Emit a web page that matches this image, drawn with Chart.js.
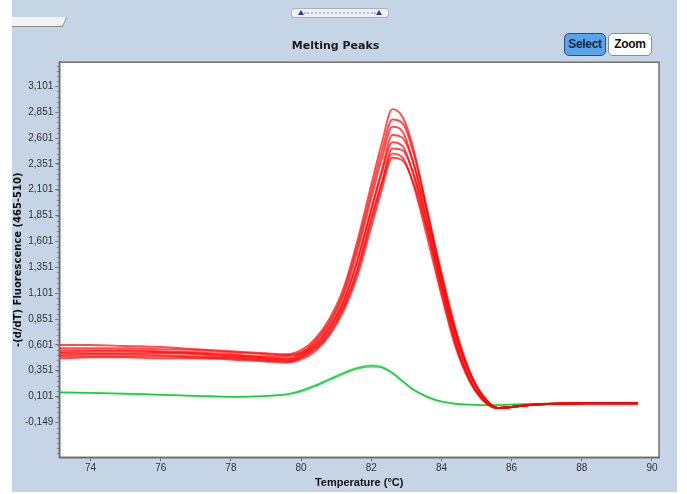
<!DOCTYPE html>
<html>
<head>
<meta charset="utf-8">
<script src="https://cdn.jsdelivr.net/npm/chart.js@4"></script>
<style>
  body { margin: 0; background: #ffffff; width: 687px; height: 494px; overflow: hidden; position: relative; }
  #panel { position: absolute; left: 12px; top: 0; width: 665px; height: 492px; background: #c5d5e5; overflow: hidden; }
  #tab { position: absolute; left: -6px; top: 17px; width: 58px; height: 9px; background: #f2f2f2;
         border-bottom: 1px solid #8a8a8a; border-right: 1px solid #8a8a8a; transform: skewX(-25deg); }
  #scroll { position: absolute; left: 291px; top: 8px; width: 96px; height: 8px; background: #eef0f4;
            border: 1px solid #a9b0bc; border-radius: 3px; }
  #scroll .dots { position: absolute; left: 12px; right: 12px; top: 3px; border-top: 2px dotted #b8bde8; }
  #scroll .tri { position: absolute; top: 1px; width: 0; height: 0; border-left: 3px solid transparent;
                 border-right: 3px solid transparent; border-bottom: 5px solid #2b3a8a; }
  .btn { position: absolute; top: 33px; height: 21px; border-radius: 5px; font: bold 12px "Liberation Sans", Arial, sans-serif;
         line-height: 21px; text-align: center; letter-spacing: -0.3px; }
  #select { left: 564px; width: 40px; background: #5aa5e8; border: 1.5px solid #2d4f78; color: #13284a; }
  #zoom { left: 608px; width: 42px; background: #ffffff; border: 1.5px solid #8c8c8c; color: #111; }
  #chart { position: absolute; left: 0; top: 0; }
</style>
</head>
<body>
<div id="panel"><div id="tab"></div></div>
<div id="scroll"><div class="dots"></div><div class="tri" style="left:6px"></div><div class="tri" style="right:6px"></div></div>
<div class="btn" id="select">Select</div>
<div class="btn" id="zoom">Zoom</div>
<canvas id="chart" width="687" height="494"></canvas>
<script>
// temperature points (°C) shared by all curves
const temps = [73.1, 74, 75, 76, 77, 78, 79, 79.6, 80.0, 80.4, 80.8, 81.2, 81.6, 82.0, 82.3, 82.6, 82.9, 83.2, 83.6, 84.0, 84.4, 84.8, 85.2, 85.6, 86.0, 86.5, 87, 88, 89, 89.6]

// -(d/dT) fluorescence, positive samples (red)
const red1 = [0.60, 0.60, 0.59, 0.58, 0.56, 0.54, 0.52, 0.51, 0.55, 0.66, 0.85, 1.14, 1.60, 2.15, 2.55, 2.88, 2.80, 2.50, 1.88, 1.22, 0.66, 0.28, 0.07, -0.01, 0.00, 0.02, 0.03, 0.035, 0.037, 0.037]
const red2 = [0.57, 0.57, 0.57, 0.56, 0.55, 0.53, 0.51, 0.50, 0.53, 0.64, 0.82, 1.10, 1.55, 2.08, 2.47, 2.78, 2.74, 2.46, 1.90, 1.28, 0.72, 0.32, 0.09, -0.01, 0.00, 0.02, 0.03, 0.035, 0.037, 0.037]
const red3 = [0.55, 0.55, 0.55, 0.54, 0.53, 0.51, 0.49, 0.49, 0.52, 0.62, 0.80, 1.07, 1.50, 2.02, 2.40, 2.71, 2.66, 2.36, 1.78, 1.16, 0.63, 0.27, 0.07, -0.01, 0.00, 0.02, 0.03, 0.035, 0.037, 0.037]
const red4 = [0.53, 0.54, 0.54, 0.53, 0.52, 0.50, 0.48, 0.47, 0.51, 0.60, 0.77, 1.02, 1.42, 1.92, 2.29, 2.63, 2.60, 2.36, 1.86, 1.30, 0.76, 0.35, 0.10, -0.01, 0.00, 0.02, 0.03, 0.035, 0.037, 0.037]
const red5 = [0.52, 0.52, 0.52, 0.52, 0.51, 0.49, 0.47, 0.46, 0.50, 0.59, 0.76, 1.01, 1.40, 1.90, 2.26, 2.56, 2.52, 2.25, 1.70, 1.12, 0.61, 0.26, 0.06, -0.01, 0.00, 0.02, 0.03, 0.035, 0.037, 0.037]
const red6 = [0.50, 0.51, 0.51, 0.50, 0.49, 0.48, 0.46, 0.45, 0.48, 0.56, 0.71, 0.95, 1.31, 1.80, 2.16, 2.50, 2.48, 2.26, 1.78, 1.25, 0.74, 0.34, 0.10, -0.01, 0.00, 0.02, 0.03, 0.035, 0.037, 0.037]
const red7 = [0.49, 0.49, 0.49, 0.49, 0.48, 0.47, 0.45, 0.44, 0.48, 0.57, 0.73, 0.97, 1.33, 1.83, 2.17, 2.45, 2.41, 2.15, 1.63, 1.08, 0.58, 0.25, 0.06, -0.01, 0.00, 0.02, 0.03, 0.035, 0.037, 0.037]
const red8 = [0.47, 0.48, 0.48, 0.47, 0.47, 0.46, 0.44, 0.43, 0.46, 0.54, 0.69, 0.92, 1.26, 1.74, 2.10, 2.41, 2.38, 2.17, 1.70, 1.18, 0.70, 0.33, 0.10, -0.01, 0.00, 0.02, 0.03, 0.035, 0.037, 0.037]

// negative / control samples (green)
const green1 = [0.144, 0.138, 0.13, 0.12, 0.11, 0.10, 0.11, 0.125, 0.16, 0.21, 0.27, 0.33, 0.38, 0.405, 0.39, 0.335, 0.25, 0.17, 0.10, 0.055, 0.035, 0.025, 0.02, 0.02, 0.025, 0.03, 0.033, 0.035, 0.037, 0.037]
const green2 = [0.140, 0.135, 0.127, 0.117, 0.107, 0.098, 0.105, 0.12, 0.15, 0.20, 0.26, 0.32, 0.37, 0.39, 0.38, 0.325, 0.245, 0.165, 0.095, 0.05, 0.03, 0.022, 0.018, 0.02, 0.025, 0.03, 0.033, 0.035, 0.037, 0.037]

const redSeries = [red1, red2, red3, red4, red5, red6, red7, red8]
const greenSeries = [green1, green2]

const xTicks = [74, 76, 78, 80, 82, 84, 86, 88, 90]
const yTicks = [-0.149, 0.101, 0.351, 0.601, 0.851, 1.101, 1.351, 1.601, 1.851, 2.101, 2.351, 2.601, 2.851, 3.101]

const toPoints = (values) => temps.map((t, i) => ({ x: t, y: values[i] }))

const datasets = []
redSeries.forEach((s, i) => {
    datasets.push({
        label: "Sample " + (i + 1),
        data: toPoints(s),
        borderColor: "rgba(255,0,0,0.7)",
        borderWidth: 1.9,
        pointRadius: 0,
        cubicInterpolationMode: "monotone",
        order: 1
    })
})
greenSeries.forEach((s, i) => {
    datasets.push({
        label: "Control " + (i + 1),
        data: toPoints(s),
        borderColor: "rgba(0,205,40,0.75)",
        borderWidth: 1.5,
        pointRadius: 0,
        cubicInterpolationMode: "monotone",
        order: 2
    })
})

const plotFrame = {
    id: "plotFrame",
    beforeDraw: (chart) => {
        const { ctx, chartArea: a } = chart
        ctx.save()
        ctx.fillStyle = "#ffffff"
        ctx.fillRect(a.left, a.top, a.right - a.left, a.bottom - a.top)
        ctx.restore()
    },
    afterDraw: (chart) => {
        const { ctx, chartArea: a } = chart
        const y = chart.scales.y
        ctx.save()
        // minor ticks on the y axis, every 0.05
        ctx.strokeStyle = "#8a8a8a"
        ctx.lineWidth = 1
        ctx.beginPath()
        for (let k = -10; k <= 70; k++) {
            const v = -0.149 + k * 0.05
            const py = Math.round(y.getPixelForValue(v)) + 0.5
            if (py < a.top || py > a.bottom) continue
            ctx.moveTo(a.left - 2.5, py)
            ctx.lineTo(a.left, py)
        }
        ctx.stroke()
        // frame round the plot
        ctx.strokeStyle = "#6e6e6e"
        ctx.lineWidth = 1.5
        ctx.strokeRect(a.left, a.top, a.right - a.left, a.bottom - a.top)
        ctx.restore()
    }
}

new Chart(document.getElementById("chart").getContext("2d"), {
    type: "line",
    data: { datasets: datasets },
    options: {
        responsive: false,
        animation: false,
        devicePixelRatio: 1,
        layout: { padding: { left: 12, right: 28, top: 0, bottom: 0 } },
        plugins: {
            legend: { display: false },
            tooltip: { enabled: false },
            title: {
                display: true,
                text: "Melting Peaks",
                color: "#1a1a1a",
                font: { family: "'DejaVu Sans', sans-serif", size: 11, weight: "bold" },
                padding: { top: 40, bottom: 9 }
            }
        },
        scales: {
            x: {
                type: "linear",
                min: 73.11,
                max: 90.2,
                afterBuildTicks: (scale) => { scale.ticks = xTicks.map(v => ({ value: v })) },
                afterFit: (scale) => { scale.height = 36.7 },
                border: { color: "#6e6e6e", width: 1.5 },
                grid: { drawOnChartArea: false, tickLength: 4, color: "#6e6e6e" },
                ticks: {
                    padding: 1,
                    color: "#333",
                    font: { family: "'Liberation Sans', Arial, sans-serif", size: 10 },
                    callback: (v) => String(v)
                },
                title: {
                    display: true,
                    text: "Temperature (°C)",
                    color: "#111",
                    font: { family: "'Liberation Sans', Arial, sans-serif", size: 11, weight: "bold" },
                    padding: { top: 0, bottom: 4 }
                }
            },
            y: {
                type: "linear",
                min: -0.486,
                max: 3.334,
                afterBuildTicks: (scale) => { scale.ticks = yTicks.map(v => ({ value: v })) },
                afterFit: (scale) => { scale.width = 47.3 },
                border: { color: "#6e6e6e", width: 1.5 },
                grid: { drawOnChartArea: false, tickLength: 4, color: "#6e6e6e" },
                ticks: {
                    padding: 2,
                    color: "#333",
                    font: { family: "'Liberation Sans', Arial, sans-serif", size: 10 },
                    callback: (v) => v.toFixed(3).replace(".", ",")
                },
                title: {
                    display: true,
                    text: "-(d/dT) Fluorescence (465-510)",
                    color: "#111",
                    font: { family: "'DejaVu Sans', sans-serif", size: 10, weight: "bold" },
                    padding: { top: 0, bottom: 0 }
                }
            }
        }
    },
    plugins: [plotFrame]
})
</script>
</body>
</html>
